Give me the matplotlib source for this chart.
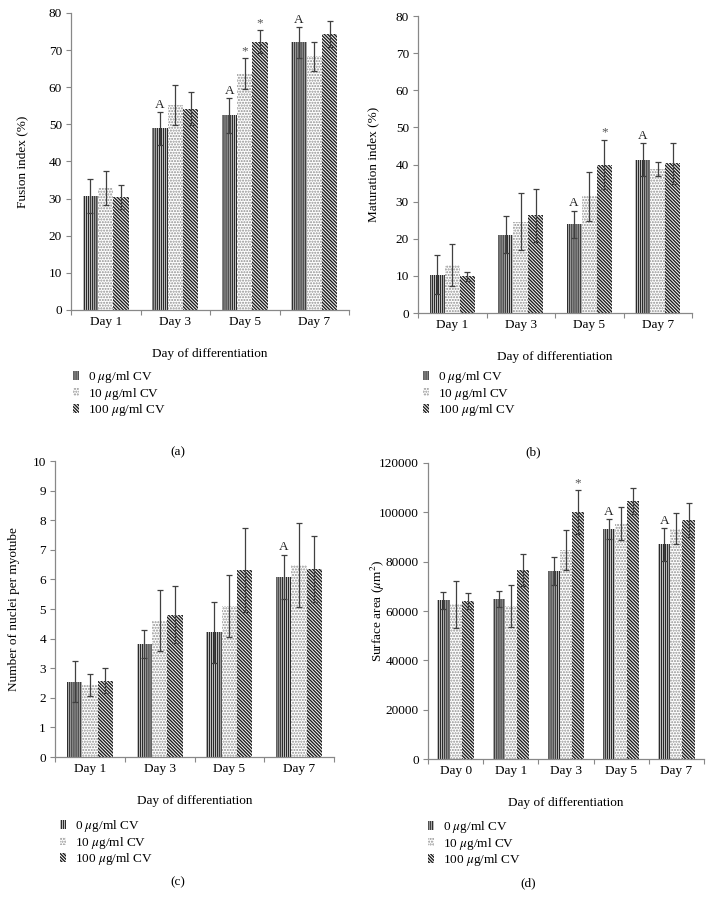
import matplotlib
matplotlib.use("Agg")
import matplotlib.pyplot as plt
from matplotlib.patches import Patch
import numpy as np

plt.rcParams["font.family"] = "serif"
plt.rcParams["font.serif"] = ["Liberation Serif", "DejaVu Serif"]
plt.rcParams["mathtext.fontset"] = "stix"
plt.rcParams["hatch.linewidth"] = 1.0

# ---------------------------------------------------------------------------
# Data
# ---------------------------------------------------------------------------
series_labels = ["0 $\\mu$g/ml CV", "10 $\\mu$g/ml CV", "100 $\\mu$g/ml CV"]

# (a) fusion index (%)
fusion_days = ["Day 1", "Day 3", "Day 5", "Day 7"]
fusion_0 = [30.8, 48.9, 52.4, 72.1]
fusion_10 = [32.9, 55.1, 63.6, 68.3]
fusion_100 = [30.5, 54.2, 72.2, 74.4]
fusion_err_0 = [4.6, 4.4, 4.6, 4.1]
fusion_err_10 = [4.6, 5.4, 4.2, 3.9]
fusion_err_100 = [3.3, 4.4, 3.1, 3.5]
fusion_marks = [(1, 0, "A"), (2, 0, "A"), (2, 1, "*"), (2, 2, "*"), (3, 0, "A")]

# (b) maturation index (%)
matur_days = ["Day 1", "Day 3", "Day 5", "Day 7"]
matur_0 = [10.3, 21.1, 23.9, 41.3]
matur_10 = [12.9, 24.6, 31.5, 38.9]
matur_100 = [9.9, 26.3, 40.0, 40.3]
matur_err_0 = [5.3, 5.0, 3.7, 4.4]
matur_err_10 = [5.7, 7.7, 6.6, 1.9]
matur_err_100 = [1.2, 7.2, 6.6, 5.6]
matur_marks = [(2, 0, "A"), (2, 2, "*"), (3, 0, "A")]

# (c) nuclei per myotube
nuclei_days = ["Day 1", "Day 3", "Day 5", "Day 7"]
nuclei_0 = [2.54, 3.82, 4.22, 6.09]
nuclei_10 = [2.44, 4.61, 5.11, 6.49]
nuclei_100 = [2.58, 4.81, 6.31, 6.36]
nuclei_err_0 = [0.69, 0.47, 1.03, 0.75]
nuclei_err_10 = [0.38, 1.03, 1.05, 1.41]
nuclei_err_100 = [0.41, 0.96, 1.41, 1.12]
nuclei_marks = [(3, 0, "A")]

# (d) surface area (um^2)
area_days = ["Day 0", "Day 1", "Day 3", "Day 5", "Day 7"]
area_0 = [64400, 65000, 76200, 93100, 87000]
area_10 = [62800, 62100, 84600, 95400, 93400]
area_100 = [64100, 76600, 100000, 104700, 96800]
area_err_0 = [3400, 3300, 5500, 4100, 6600]
area_err_10 = [9500, 8500, 8100, 6800, 6300]
area_err_100 = [3200, 6400, 8900, 5300, 6800]
area_marks = [(2, 2, "*"), (3, 0, "A"), (4, 0, "A")]

# ---------------------------------------------------------------------------
# Styling
# ---------------------------------------------------------------------------
HATCHES = ["||||||||", "......", "\\" * 10]
HATCH_COLORS = ["#2b2b2b", "#8f8f8f", "#1e1e1e"]
AXIS_COLOR = "#888888"
FS = 9.5
W, H = 712, 909


def add_panel(rect_px, days, values, errors, marks, ylim, yticks, ylabel,
              ylabel_x, legend_px, tag, tag_px):
    left, right, top, bottom = rect_px
    fig = plt.gcf()
    ax = fig.add_axes([left / W, 1 - bottom / H, (right - left) / W, (bottom - top) / H])
    x = np.arange(len(days))
    width = 0.22
    for i, (vals, errs) in enumerate(zip(values, errors)):
        pos = x + (i - 1) * width
        ax.bar(pos, vals, width, color="white", edgecolor=HATCH_COLORS[i],
               hatch=HATCHES[i], linewidth=0, zorder=2)
        ax.errorbar(pos, vals, yerr=errs, fmt="none", ecolor="#404040",
                    elinewidth=0.9, capsize=2.2, capthick=0.9, zorder=3)
    for gi, si, txt in marks:
        xp = x[gi] + (si - 1) * width
        yp = values[si][gi] + errors[si][gi]
        ax.annotate(txt, (xp, yp), xytext=(0, 1.0), textcoords="offset points",
                    ha="center", va="bottom", fontsize=FS,
                    color="#555555" if txt == "*" else "#222222")

    ax.set_xlim(-0.5, len(days) - 0.5)
    ax.set_ylim(*ylim)
    ax.set_yticks(yticks)
    ax.set_xticks(np.arange(-0.5, len(days)), minor=False)
    ax.set_xticklabels([])
    ax.set_xticks(x, minor=True)
    ax.set_xticklabels(days, minor=True)
    ax.tick_params(axis="x", which="minor", length=0, labelsize=FS, pad=4)
    ax.tick_params(axis="x", which="major", length=3.5, color=AXIS_COLOR, direction="out")
    ax.tick_params(axis="y", length=3.5, color=AXIS_COLOR, labelsize=FS, pad=3)
    for s in ("top", "right"):
        ax.spines[s].set_visible(False)
    for s in ("left", "bottom"):
        ax.spines[s].set_color(AXIS_COLOR)
        ax.spines[s].set_linewidth(0.9)
    ax.set_ylabel(ylabel, fontsize=FS, va="center")
    ax.yaxis.set_label_coords((ylabel_x - left) / (right - left), 0.5)
    ax.set_xlabel("Day of differentiation", fontsize=FS, labelpad=15)

    handles = [Patch(facecolor="white", edgecolor=HATCH_COLORS[i], hatch=HATCHES[i],
                     linewidth=0) for i in range(3)]
    ax.legend(handles, series_labels, loc="upper left",
              bbox_to_anchor=(legend_px[0] / W, 1 - legend_px[1] / H),
              bbox_transform=fig.transFigure, frameon=False, fontsize=FS,
              handlelength=0.45, handleheight=0.6, handletextpad=0.7,
              labelspacing=0.05, borderpad=0, borderaxespad=0)
    fig.text(tag_px[0] / W, 1 - tag_px[1] / H, tag, ha="center", va="center", fontsize=FS)
    return ax


fig = plt.figure(figsize=(W / 100, H / 100), dpi=100)

add_panel((71, 349, 13, 310), fusion_days,
          [fusion_0, fusion_10, fusion_100],
          [fusion_err_0, fusion_err_10, fusion_err_100], fusion_marks,
          (0, 80), np.arange(0, 81, 10), "Fusion index (%)", 22,
          (73, 369), "(a)", (178, 452))

add_panel((418, 692, 16, 313), matur_days,
          [matur_0, matur_10, matur_100],
          [matur_err_0, matur_err_10, matur_err_100], matur_marks,
          (0, 80), np.arange(0, 81, 10), "Maturation index (%)", 373,
          (423, 369), "(b)", (533, 452))

add_panel((55, 334, 461, 757), nuclei_days,
          [nuclei_0, nuclei_10, nuclei_100],
          [nuclei_err_0, nuclei_err_10, nuclei_err_100], nuclei_marks,
          (0, 10), np.arange(0, 11, 1), "Number of nuclei per myotube", 14,
          (60, 818), "(c)", (178, 882))

add_panel((428, 704, 463, 759), area_days,
          [area_0, area_10, area_100],
          [area_err_0, area_err_10, area_err_100], area_marks,
          (0, 120000), np.arange(0, 120001, 20000), "Surface area ($\\mu$m$^2$)", 378,
          (428, 819), "(d)", (528, 883))

fig.savefig("out.png", dpi=100, facecolor="white")
